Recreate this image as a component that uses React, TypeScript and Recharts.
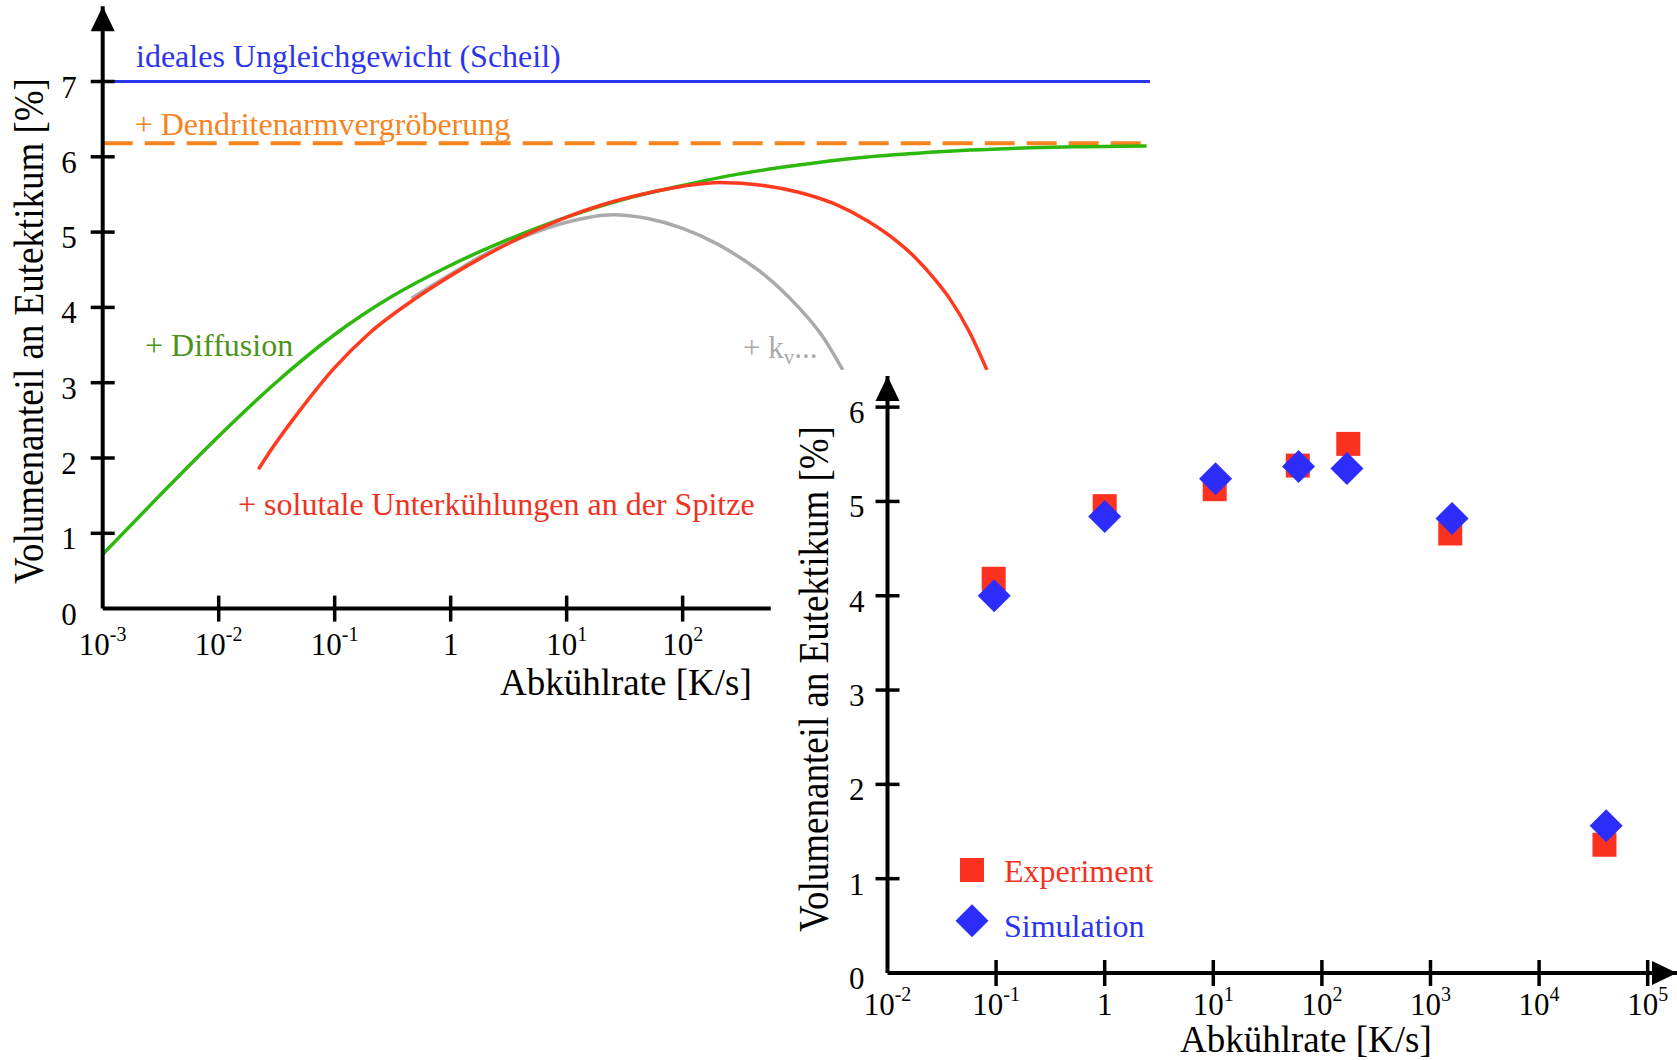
import React from 'react';
import {
  LineChart,
  Line,
  ScatterChart,
  Scatter,
  XAxis,
  YAxis,
  ReferenceLine,
  ReferenceDot,
  Legend,
} from 'recharts';

const FONT = '"Liberation Serif", "Times New Roman", serif';

// upper chart: model curves, x = cooling rate [K/s], y = eutectic fraction [%]
const scheilRate = [0.001, 1.07e6];
const scheilFrac = [7, 7];

const coarseningRate = [0.001, 1.07e6];
const coarseningFrac = [6.18, 6.18];

const diffusionRate = [0.001, 0.003, 0.01, 0.03, 0.1, 0.3, 1, 3, 10, 30, 100, 300, 1000, 3000, 1e4, 3e4, 1e5, 3e5, 1e6];
const diffusionFrac = [0.72, 1.48, 2.29, 2.98, 3.64, 4.13, 4.56, 4.89, 5.2, 5.43, 5.62, 5.77, 5.89, 5.98, 6.045, 6.09, 6.12, 6.135, 6.145];

const tipRate = [0.022, 0.03, 0.05, 0.1, 0.2, 0.5, 1, 2, 5, 10, 20, 50, 100, 210, 500, 1000, 2000, 4000, 7000, 1e4, 1.5e4, 2e4, 3e4, 4.2e4];
const tipFrac = [1.85, 2.165, 2.63, 3.2, 3.66, 4.12, 4.42, 4.69, 5.0, 5.2, 5.36, 5.52, 5.61, 5.66, 5.62, 5.53, 5.38, 5.14, 4.88, 4.67, 4.37, 4.12, 3.66, 3.17];

const kvRate = [0.46, 1, 2, 5, 10, 25, 50, 100, 200, 300, 500, 1000, 1600, 2400];
const kvFrac = [4.12, 4.44, 4.71, 4.98, 5.13, 5.23, 5.18, 5.05, 4.84, 4.68, 4.44, 4.0, 3.62, 3.17];

const upperXTicks = [0.001, 0.01, 0.1, 1, 10, 100];
const upperYTicks = [0, 1, 2, 3, 4, 5, 6, 7];

// lower chart: experiment vs simulation
const expRate = [0.095, 1.0, 10.3, 60, 175, 1520, 40000];
const expFrac = [4.18, 4.95, 5.13, 5.38, 5.61, 4.66, 1.36];
const simRate = [0.096, 1.0, 10.5, 61, 170, 1580, 41500];
const simFrac = [4.0, 4.84, 5.24, 5.37, 5.35, 4.82, 1.56];

const lowerXTicks = [0.01, 0.1, 1, 10, 100, 1000, 1e4, 1e5];
const lowerYTicks = [0, 1, 2, 3, 4, 5, 6];

const toPoints = (xs: number[], ys: number[]) => xs.map((x, i) => ({ x, y: ys[i] }));

const BLUE = '#2b35ee';
const ORANGE = '#f5841f';
const GREEN = '#2cb80c';
const GREEN_TEXT = '#4b9418';
const RED = '#ff3a1f';
const RED_TEXT = '#f0321e';
const GRAY = '#aaaaaa';
const SQUARE = '#fb3220';
const DIAMOND = '#2d2dfb';

const makeXTick = (labelDy: number, origin: number) => (props: any) => {
  const { x, y, payload } = props;
  const e = Math.round(Math.log10(payload.value));
  return (
    <g>
      {payload.value !== origin && (
        <line x1={x} x2={x} y1={y - 13} y2={y + 13} stroke="#000" strokeWidth={3.5} />
      )}
      <text x={x} y={y + labelDy} textAnchor="middle" fontFamily={FONT} fontSize={31} fill="#000">
        {e === 0 ? (
          '1'
        ) : (
          <>
            10
            <tspan dy={-14} fontSize={20}>
              {String(e)}
            </tspan>
          </>
        )}
      </text>
    </g>
  );
};

const makeYTick = (labelDx: number) => (props: any) => {
  const { x, y, payload } = props;
  return (
    <g>
      {payload.value !== 0 && (
        <line x1={x - 12} x2={x + 12} y1={y} y2={y} stroke="#000" strokeWidth={3.5} />
      )}
      <text x={x - labelDx} y={y + 16} textAnchor="end" fontFamily={FONT} fontSize={31} fill="#000">
        {payload.value}
      </text>
    </g>
  );
};

const upArrow = (p: any) => (
  <path d={`M${p.cx},${p.cy} L${p.cx - 12},${p.cy + 25} L${p.cx + 12},${p.cy + 25} Z`} fill="#000" />
);
const rightArrow = (p: any) => (
  <path d={`M${p.cx},${p.cy} L${p.cx - 25},${p.cy - 12} L${p.cx - 25},${p.cy + 12} Z`} fill="#000" />
);

const squareShape = (p: any) => <rect x={p.cx - 12} y={p.cy - 12} width={24} height={24} fill={SQUARE} />;
const diamondShape = (p: any) => (
  <path
    d={`M${p.cx},${p.cy - 16.5} L${p.cx + 16.5},${p.cy} L${p.cx},${p.cy + 16.5} L${p.cx - 16.5},${p.cy} Z`}
    fill={DIAMOND}
  />
);

const LegendBox = ({ payload }: any) => {
  const items = payload || [];
  return (
    <svg width={230} height={110} style={{ overflow: 'visible' }}>
      {items.map((item: any, i: number) => {
        const cy = i === 0 ? 30 : 80.7;
        const isExp = item.value === 'Experiment';
        return (
          <g key={item.value}>
            {isExp ? squareShape({ cx: 22, cy }) : diamondShape({ cx: 22, cy })}
            <text
              x={54}
              y={cy + (isExp ? 11.7 : 16.6)}
              fontFamily={FONT}
              fontSize={32}
              fill={isExp ? RED_TEXT : BLUE}
            >
              {item.value}
            </text>
          </g>
        );
      })}
    </svg>
  );
};

export default function App() {
  const axisLine = { stroke: '#000', strokeWidth: 4 };
  return (
    <div
      style={{
        position: 'absolute',
        left: 0,
        top: 0,
        width: 1677,
        height: 1060,
        overflow: 'hidden',
        background: '#fff',
      }}
    >
      {/* upper chart */}
      <div style={{ position: 'absolute', left: 0, top: 0 }}>
        <LineChart width={1160} height={700} margin={{ top: 6.2, right: 10, bottom: 0, left: 0 }}>
          <XAxis
            type="number"
            dataKey="x"
            scale="log"
            domain={[0.001, 1.07e6]}
            allowDataOverflow
            ticks={upperXTicks}
            interval={0}
            axisLine={false}
            tickLine={false}
            tickSize={0}
            tickMargin={0}
            height={91.4}
            tick={makeXTick(46, 0.001)}
          />
          <YAxis
            type="number"
            dataKey="y"
            domain={[0, 8]}
            allowDataOverflow
            ticks={upperYTicks}
            interval={0}
            width={102.7}
            axisLine={axisLine}
            tickLine={false}
            tickSize={0}
            tickMargin={0}
            tick={makeYTick(26)}
          />
          <ReferenceLine
            segment={[{ x: 0.001, y: 0 }, { x: 575, y: 0 }]}
            stroke="#000"
            strokeWidth={4}
            ifOverflow="visible"
          />
          <ReferenceDot x={0.001} y={8} ifOverflow="visible" shape={upArrow} />
          <Line
            data={toPoints(scheilRate, scheilFrac)}
            dataKey="y"
            type="linear"
            stroke={BLUE}
            strokeWidth={3}
            dot={false}
            isAnimationActive={false}
          />
          <Line
            data={toPoints(coarseningRate, coarseningFrac)}
            dataKey="y"
            type="linear"
            stroke={ORANGE}
            strokeWidth={4}
            strokeDasharray="30 12"
            dot={false}
            isAnimationActive={false}
          />
          <Line
            data={toPoints(kvRate, kvFrac)}
            dataKey="y"
            type="monotone"
            stroke={GRAY}
            strokeWidth={3.5}
            dot={false}
            isAnimationActive={false}
          />
          <Line
            data={toPoints(diffusionRate, diffusionFrac)}
            dataKey="y"
            type="monotone"
            stroke={GREEN}
            strokeWidth={3.5}
            dot={false}
            isAnimationActive={false}
          />
          <Line
            data={toPoints(tipRate, tipFrac)}
            dataKey="y"
            type="monotone"
            stroke={RED}
            strokeWidth={3.5}
            dot={false}
            isAnimationActive={false}
          />
        </LineChart>
      </div>

      {/* lower chart */}
      <div style={{ position: 'absolute', left: 780, top: 370, background: '#fff' }}>
        <ScatterChart width={897} height={690} margin={{ top: 6, right: 0, bottom: 0, left: 0 }}>
          <XAxis
            type="number"
            dataKey="x"
            scale="log"
            domain={[0.01, 1.862e5]}
            allowDataOverflow
            ticks={lowerXTicks}
            interval={0}
            axisLine={axisLine}
            tickLine={false}
            tickSize={0}
            tickMargin={0}
            height={87}
            tick={makeXTick(42, 0.01)}
          />
          <YAxis
            type="number"
            dataKey="y"
            domain={[0, 6.33]}
            allowDataOverflow
            ticks={lowerYTicks}
            interval={0}
            width={107.5}
            axisLine={axisLine}
            tickLine={false}
            tickSize={0}
            tickMargin={0}
            tick={makeYTick(23)}
          />
          <ReferenceDot x={0.01} y={6.33} ifOverflow="visible" shape={upArrow} />
          <ReferenceDot x={1.862e5} y={0} ifOverflow="visible" shape={rightArrow} />
          <Scatter
            name="Experiment"
            data={toPoints(expRate, expFrac)}
            fill={SQUARE}
            shape={squareShape}
            isAnimationActive={false}
          />
          <Scatter
            name="Simulation"
            data={toPoints(simRate, simFrac)}
            fill={DIAMOND}
            shape={diamondShape}
            isAnimationActive={false}
          />
          <Legend
            layout="horizontal"
            verticalAlign="middle"
            align="center"
            content={<LegendBox />}
            wrapperStyle={{ left: 170, top: 470, width: 230, height: 110 }}
          />
        </ScatterChart>
      </div>

      {/* annotations and axis titles */}
      <svg
        width={1677}
        height={1060}
        style={{ position: 'absolute', left: 0, top: 0, pointerEvents: 'none' }}
        fontFamily={FONT}
      >
        <text x={136} y={66.7} fontSize={32} fill={BLUE}>
          ideales Ungleichgewicht (Scheil)
        </text>
        <text x={134.7} y={135} fontSize={32} fill={ORANGE}>
          + Dendritenarmvergröberung
        </text>
        <text x={145} y={356} fontSize={32} fill={GREEN_TEXT}>
          + Diffusion
        </text>
        <text x={743} y={358} fontSize={31} fill={GRAY}>
          + k
          <tspan dy={6} fontSize={21}>
            v
          </tspan>
          <tspan dy={-6}>...</tspan>
        </text>
        <text x={238} y={515} fontSize={32} fill={RED_TEXT}>
          + solutale Unterkühlungen an der Spitze
        </text>

        <text x={500} y={695} fontSize={37} fill="#000">
          Abkühlrate [K/s]
        </text>
        <text
          transform="translate(43,331) rotate(-90) scale(1,1.13)"
          x={0}
          y={0}
          textAnchor="middle"
          fontSize={37}
          fill="#000"
        >
          Volumenanteil an Eutektikum [%]
        </text>

        <text x={1180} y={1051.7} fontSize={37} fill="#000">
          Abkühlrate [K/s]
        </text>
        <text
          transform="translate(828,679) rotate(-90) scale(1,1.13)"
          x={0}
          y={0}
          textAnchor="middle"
          fontSize={37}
          fill="#000"
        >
          Volumenanteil an Eutektikum [%]
        </text>
      </svg>
    </div>
  );
}
